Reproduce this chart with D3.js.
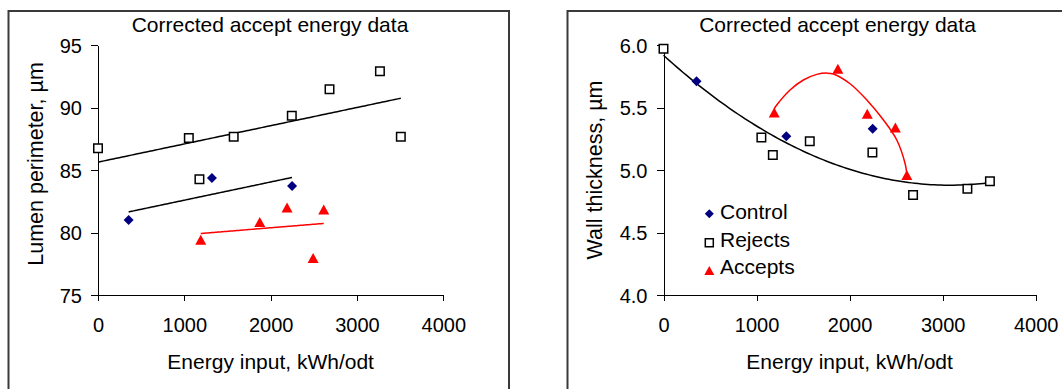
<!DOCTYPE html>
<html>
<head>
<meta charset="utf-8">
<script src="https://cdn.jsdelivr.net/npm/d3@7"></script>
<style>
  html, body { margin: 0; padding: 0; background: #fff; }
  svg { display: block; font-family: "Liberation Sans", Arial, sans-serif; }
</style>
</head>
<body>
<svg id="chart" width="1062" height="389"></svg>
<script>
// ---------------- DATA ----------------
const seriesNames = ["Control", "Rejects", "Accepts"];
const energyControl = [355, 1320, 2248];
const energyRejects = [0, 1052, 1175, 1572, 2245, 2682, 3266, 3508];
const energyAccepts = [1190, 1874, 2190, 2492, 2615];

const lumenControl = [81.0, 84.37, 83.73];
const lumenRejects = [86.75, 87.56, 84.26, 87.66, 89.35, 91.47, 92.91, 87.66];
const lumenAccepts = [79.42, 80.84, 82.01, 77.97, 81.85];

const wallControl = [5.71, 5.27, 5.33];
const wallRejects = [5.97, 5.26, 5.12, 5.23, 5.14, 4.80, 4.85, 4.91];
const wallAccepts = [5.46, 5.81, 5.45, 5.34, 4.96];

// Accepts trendline on the wall-thickness panel
const wallAcceptsTrendEnergy = [1190, 1217, 1360, 1503, 1647, 1760, 1826, 2005, 2185, 2364, 2507, 2597, 2615];
const wallAcceptsTrendValue  = [5.49, 5.52, 5.64, 5.72, 5.765, 5.775, 5.768, 5.69, 5.56, 5.40, 5.24, 5.05, 4.97];

const xTicks = [0, 1000, 2000, 3000, 4000];
const lumenTicks = [75, 80, 85, 90, 95];
const wallTicks = [4.0, 4.5, 5.0, 5.5, 6.0];

const titleText = "Corrected accept energy data";
const xTitle = "Energy input, kWh/odt";
const lumenTitle = "Lumen perimeter, µm";
const wallTitle = "Wall thickness, µm";

// ---------------- HELPERS ----------------
const svg = d3.select("#chart");
const FONT = 20;

// least-squares polynomial fit (x scaled to thousands)
function polyFit(xs, ys, order) {
  const n = order + 1;
  const A = Array.from({length: n}, () => new Array(n + 1).fill(0));
  xs.forEach((x0, k) => {
    const x = x0 / 1000;
    for (let i = 0; i < n; i++) {
      for (let j = 0; j < n; j++) A[i][j] += Math.pow(x, i + j);
      A[i][n] += ys[k] * Math.pow(x, i);
    }
  });
  for (let c = 0; c < n; c++) {
    let p = c;
    for (let r = c + 1; r < n; r++) if (Math.abs(A[r][c]) > Math.abs(A[p][c])) p = r;
    [A[c], A[p]] = [A[p], A[c]];
    for (let r = 0; r < n; r++) {
      if (r === c) continue;
      const f = A[r][c] / A[c][c];
      for (let k = c; k <= n; k++) A[r][k] -= f * A[c][k];
    }
  }
  const coef = A.map((row, i) => row[n] / row[i]);
  return x0 => { const x = x0 / 1000; return coef.reduce((s, c, i) => s + c * Math.pow(x, i), 0); };
}

function diamondPath(cx, cy, r) {
  return `M${cx},${cy - r}L${cx + r},${cy}L${cx},${cy + r}L${cx - r},${cy}Z`;
}
function squarePath(cx, cy, s) {
  const h = s / 2;
  return `M${cx - h},${cy - h}H${cx + h}V${cy + h}H${cx - h}Z`;
}
function trianglePath(cx, cy, w, h) {
  return `M${cx},${cy - h / 2}L${cx + w / 2},${cy + h / 2}L${cx - w / 2},${cy + h / 2}Z`;
}

function drawPanel(opt) {
  const g = svg.append("g");
  // frame
  g.append("rect")
    .attr("x", opt.frame[0]).attr("y", opt.frame[1])
    .attr("width", opt.frame[2]).attr("height", 420)
    .attr("fill", "none").attr("stroke", "#3a3a3a").attr("stroke-width", 2);

  const x = d3.scaleLinear().domain([0, 4000]).range(opt.xRange);
  const y = d3.scaleLinear().domain(opt.yDomain).range([295, 45]);

  // axes
  const yAxis = d3.axisLeft(y).tickValues(opt.yTicks).tickSize(7).tickSizeOuter(0)
    .tickPadding(9).tickFormat(opt.yFormat);
  const xAxis = d3.axisBottom(x).tickValues(xTicks).tickSize(6).tickSizeOuter(0)
    .tickPadding(17).tickFormat(d3.format("d"));

  const ya = g.append("g").attr("transform", `translate(${opt.xRange[0]},0)`).call(yAxis);
  const xa = g.append("g").attr("transform", `translate(0,295)`).call(xAxis);
  [ya, xa].forEach(a => {
    a.selectAll("path, line").attr("stroke", "#000").attr("stroke-width", 1).attr("shape-rendering", "crispEdges");
    a.selectAll("text").attr("font-size", FONT).attr("fill", "#000")
      .attr("font-family", "Liberation Sans, Arial, sans-serif");
  });
  ya.selectAll("text").attr("dy", "0.36em");

  // titles
  g.append("text").attr("x", opt.titleX).attr("y", 32).attr("text-anchor", "middle")
    .attr("font-size", 21).text(titleText);
  g.append("text").attr("x", (opt.xRange[0] + opt.xRange[1]) / 2).attr("y", 369)
    .attr("text-anchor", "middle").attr("font-size", 21).text(xTitle);
  g.append("text").attr("transform", `translate(${opt.yTitle[0]},${opt.yTitle[1]}) rotate(-90)`)
    .attr("text-anchor", "middle").attr("font-size", 21.5).text(opt.yLabel);

  // fitted trendlines
  const line = d3.line().x(d => x(d[0])).y(d => y(d[1]));
  opt.fits.forEach(f => {
    const fn = polyFit(f.xs, f.ys, f.order);
    const x0 = d3.min(f.xs), x1 = d3.max(f.xs);
    const pts = d3.range(0, 101).map(i => { const xv = x0 + (x1 - x0) * i / 100; return [xv, fn(xv)]; });
    g.append("path").attr("d", line(pts)).attr("fill", "none")
      .attr("stroke", f.color).attr("stroke-width", 1.5);
  });
  // traced trendlines
  (opt.traces || []).forEach(t => {
    g.append("path")
      .attr("d", d3.line().curve(d3.curveCatmullRom.alpha(0.5)).x(d => x(d[0])).y(d => y(d[1]))(d3.zip(t.xs, t.ys)))
      .attr("fill", "none").attr("stroke", t.color).attr("stroke-width", 1.5);
  });

  // markers
  const s = opt.series;
  g.selectAll(".rej").data(d3.zip(energyRejects, s.rejects)).enter().append("path")
    .attr("d", d => squarePath(x(d[0]), y(d[1]), 8.5))
    .attr("fill", "#fff").attr("stroke", "#000").attr("stroke-width", 1.5);
  g.selectAll(".ctl").data(d3.zip(energyControl, s.control)).enter().append("path")
    .attr("d", d => diamondPath(x(d[0]), y(d[1]), 5))
    .attr("fill", "#000080");
  g.selectAll(".acc").data(d3.zip(energyAccepts, s.accepts)).enter().append("path")
    .attr("d", d => trianglePath(x(d[0]), y(d[1]), 11, 10))
    .attr("fill", "#ff0000");
  return {x, y, g};
}

// ---------------- LEFT PANEL ----------------
drawPanel({
  frame: [8.5, 11, 500.5],
  xRange: [98, 443.3],
  yDomain: [75, 95],
  yTicks: lumenTicks,
  yFormat: d3.format("d"),
  titleX: 270,
  yTitle: [43, 164],
  yLabel: lumenTitle,
  series: {control: lumenControl, rejects: lumenRejects, accepts: lumenAccepts},
  fits: [
    {xs: energyRejects, ys: lumenRejects, order: 1, color: "#000"},
    {xs: energyControl, ys: lumenControl, order: 1, color: "#000"},
    {xs: energyAccepts, ys: lumenAccepts, order: 1, color: "#ff0000"}
  ]
});

// ---------------- RIGHT PANEL ----------------
const right = drawPanel({
  frame: [567.5, 11, 600],
  xRange: [663.5, 1035.7],
  yDomain: [4, 6],
  yTicks: wallTicks,
  yFormat: d3.format(".1f"),
  titleX: 837.5,
  yTitle: [601.5, 170],
  yLabel: wallTitle,
  series: {control: wallControl, rejects: wallRejects, accepts: wallAccepts},
  fits: [
    {xs: energyRejects, ys: wallRejects, order: 2, color: "#000"}
  ],
  traces: [
    {xs: wallAcceptsTrendEnergy, ys: wallAcceptsTrendValue, color: "#ff0000"}
  ]
});

// legend
const legendY = [219.3, 247.3, 274];
const lg = right.g.append("g");
seriesNames.forEach((name, i) => {
  const cy = legendY[i] - 5.5;
  if (i === 0) lg.append("path").attr("d", diamondPath(709.3, cy, 4.5)).attr("fill", "#000080");
  if (i === 1) lg.append("path").attr("d", squarePath(709.3, cy + 1, 8)).attr("fill", "#fff")
    .attr("stroke", "#000").attr("stroke-width", 1.5);
  if (i === 2) lg.append("path").attr("d", trianglePath(709.3, cy + 2, 10, 9)).attr("fill", "#ff0000");
  lg.append("text").attr("x", 720).attr("y", legendY[i]).attr("font-size", 21).text(name);
});
</script>
</body>
</html>
